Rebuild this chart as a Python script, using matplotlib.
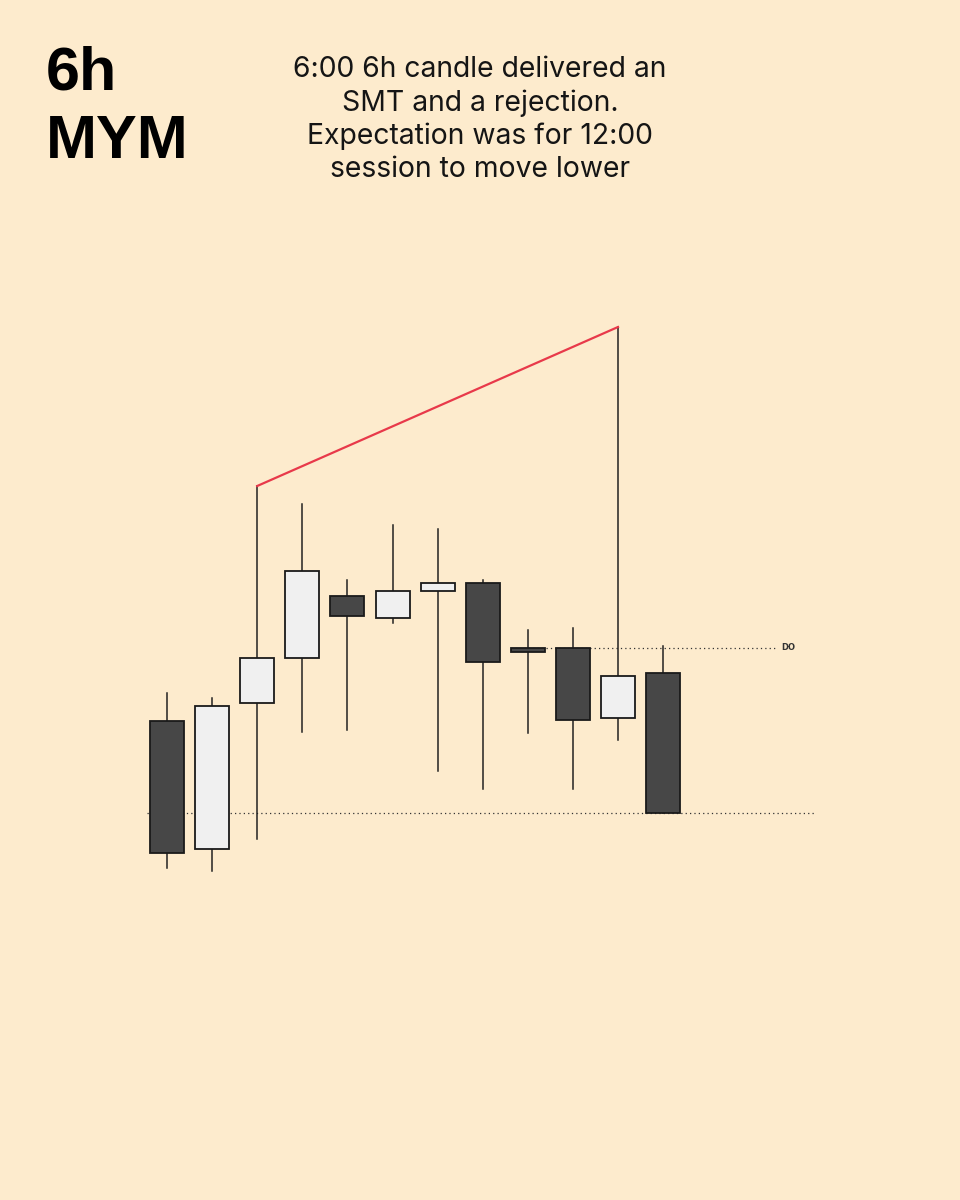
import matplotlib
matplotlib.use("Agg")
import matplotlib.pyplot as plt
from matplotlib.patches import Rectangle

plt.rcParams['font.family'] = ['Inter', 'DejaVu Sans']

# 6h MYM candles (open, high, low, close)
opens  = [34184, 33928, 34220, 34310, 34434, 34390, 34444, 34460, 34330, 34330, 34190, 34280]
highs  = [34240, 34230, 34654, 34618, 34466, 34576, 34568, 34466, 34366, 34370, 34972, 34334]
lows   = [33890, 33884, 33948, 34162, 34166, 34380, 34084, 34048, 34160, 34048, 34146, 34000]
closes = [33920, 34214, 34310, 34484, 34394, 34444, 34460, 34302, 34322, 34186, 34274, 34000]

daily_open = 34330
low_level = 34000
smt_from, smt_to = 2, 10   # candle indices joined by the SMT line

bg = '#FDEBCD'
dark = '#474747'
light = '#F0F0F0'

fig = plt.figure(figsize=(9.6, 12), dpi=100, facecolor=bg)
ax = fig.add_axes([0, 0, 1, 1], facecolor=bg)

step = 45.1
ax.set_xlim(-167 / step, (960 - 167) / step)
ax.set_ylim(34000 - (1200 - 813) * 2, 34000 + 813 * 2)
ax.axis('off')

w = 34 / step
for i, (o, h, l, c) in enumerate(zip(opens, highs, lows, closes)):
    ax.plot([i, i], [l, h], color='#222222', lw=1.1, zorder=2)
    col = light if c > o else dark
    ax.add_patch(Rectangle((i - w / 2, min(o, c)), w, abs(c - o),
                           facecolor=col, edgecolor='#1a1a1a', lw=1.3, zorder=3))

# dotted levels
ax.plot([8 - w / 2, 13.5], [daily_open, daily_open], color='#333333',
        lw=0.9, ls=(0, (1, 2.5)), zorder=1)
ax.text(13.62, daily_open, 'DO', fontsize=6, fontweight='bold',
        family='DejaVu Sans', color='#333333', va='center', ha='left')
ax.plot([-0.45, 14.35], [low_level, low_level], color='#333333',
        lw=0.9, ls=(0, (1, 2.5)), zorder=1)

# SMT line
ax.plot([smt_from, smt_to], [highs[smt_from], highs[smt_to]],
        color='#E8394A', lw=1.6, zorder=4)

fig.text(46, 1200 - 90, '6h', transform=None, fontsize=44,
         fontweight='bold', family='Liberation Sans', va='baseline', ha='left')
fig.text(46, 1200 - 158, 'MYM', transform=None, fontsize=44,
         fontweight='bold', family='Liberation Sans', va='baseline', ha='left')
fig.text(480, 1200 - 56,
         '6:00 6h candle delivered an\nSMT and a rejection.\n'
         'Expectation was for 12:00\nsession to move lower',
         transform=None, fontsize=20.4, va='top', ha='center',
         linespacing=1.28, color='#151515')

fig.savefig('out.png', dpi=100, facecolor=bg)
